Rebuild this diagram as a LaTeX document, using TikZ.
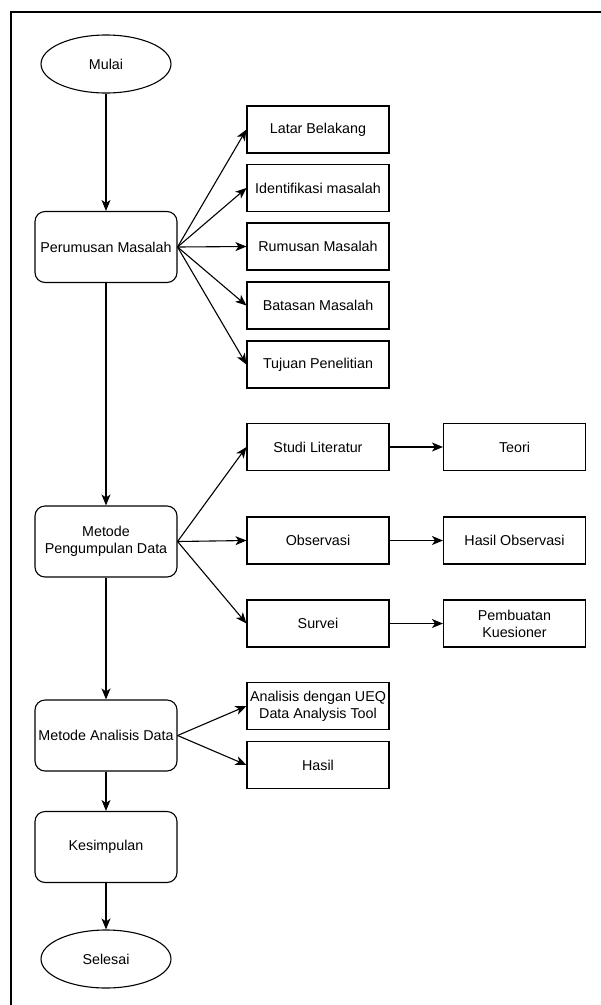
\documentclass[tikz,border=0pt]{standalone}
\usepackage{fontspec}
\setmainfont{Liberation Sans}
\usetikzlibrary{shapes.geometric,arrows.meta}

\tikzset{
    terminal/.style={ellipse, draw, line width=1.1pt, minimum width=130pt, minimum height=58pt, inner sep=0pt},
    process/.style={rectangle, rounded corners=10pt, draw, line width=1.1pt, minimum width=142pt, minimum height=71pt, inner sep=0pt, align=center},
    itembox/.style={rectangle, draw, line width=1.1pt, minimum width=142pt, minimum height=47pt, inner sep=0pt, align=center},
    flow/.style={-{Stealth[length=11pt,width=9pt,inset=3pt]}, line width=1.1pt}
}

\begin{document}
\begin{tikzpicture}[x=1pt, y=-1pt, font=\fontsize{14.3}{17}\selectfont]
    \useasboundingbox (0,0) rectangle (601,1005);
    % Frame
    \draw[line width=1.2pt] (11,1005) -- (11,12) -- (601,12);
    % Main column
    \node[terminal] (mulai) at (106,64) {Mulai};
    \node[process] (rumusan) at (106,247) {Perumusan Masalah};
    \node[process] (kumpul) at (106,541.5) {Metode\\Pengumpulan Data};
    \node[process] (analisis) at (106,735.5) {Metode Analisis Data};
    \node[process] (simpul) at (106,847) {Kesimpulan};
    \node[terminal] (selesai) at (106,959) {Selesai};
    % Problem items
    \node[itembox] (latar) at (318,129.5) {Latar Belakang};
    \node[itembox] (identifikasi) at (318,188) {Identifikasi masalah};
    \node[itembox] (rmasalah) at (318,246.5) {Rumusan Masalah};
    \node[itembox] (batasan) at (318,305.5) {Batasan Masalah};
    \node[itembox] (tujuan) at (318,364.5) {Tujuan Penelitian};
    % Data collection
    \node[itembox] (studi) at (318,447) {Studi Literatur};
    \node[itembox] (obs) at (318,540.5) {Observasi};
    \node[itembox] (survei) at (318,623.5) {Survei};
    \node[itembox] (teori) at (514.5,447) {Teori};
    \node[itembox] (hobs) at (514.5,540.5) {Hasil Observasi};
    \node[itembox] (kuesioner) at (514.5,623.5) {Pembuatan\\Kuesioner};
    % Analysis
    \node[itembox] (ueq) at (318,706) {Analisis dengan UEQ\\Data Analysis Tool};
    \node[itembox] (hasil) at (318,765) {Hasil};
    % Connectors
    \draw[flow] (mulai) -- (rumusan);
    \draw[flow] (rumusan) -- (kumpul);
    \draw[flow] (kumpul) -- (analisis);
    \draw[flow] (analisis) -- (simpul);
    \draw[flow] (simpul) -- (selesai);
    \foreach \t in {latar,identifikasi,rmasalah,batasan,tujuan}
        \draw[flow] (rumusan.east) -- (\t.west);
    \foreach \t in {studi,obs,survei}
        \draw[flow] (kumpul.east) -- (\t.west);
    \draw[flow] (studi) -- (teori);
    \draw[flow] (obs) -- (hobs);
    \draw[flow] (survei) -- (kuesioner);
    \draw[flow] (analisis.east) -- (ueq.west);
    \draw[flow] (analisis.east) -- (hasil.west);
\end{tikzpicture}
\end{document}
